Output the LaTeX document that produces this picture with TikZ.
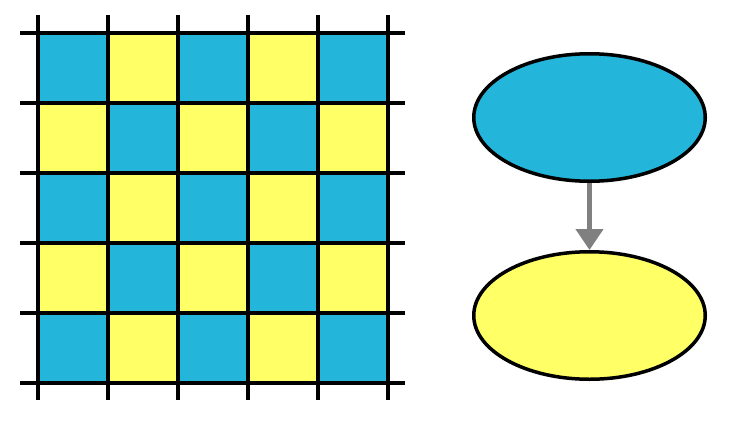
\documentclass[tikz,border=0pt]{standalone}
\usetikzlibrary{shapes.geometric,arrows.meta}
\definecolor{cellblue}{RGB}{36,182,218}
\definecolor{cellyellow}{RGB}{255,255,102}
\definecolor{arrowgray}{RGB}{128,128,128}
\tikzset{
  gridline/.style={black,line width=4pt},
  blob/.style={ellipse,draw=black,line width=3.5pt,minimum width=231.5pt,minimum height=127.5pt,inner sep=0pt},
  link/.style={arrowgray,line width=4.5pt,-{Triangle[width=27pt,length=21pt]}}
}
\begin{document}
\begin{tikzpicture}[x=1pt,y=-1pt]
\useasboundingbox (0,0) rectangle (733,428);
\foreach \i in {0,...,4}{
  \foreach \j in {0,...,4}{
    \pgfmathtruncatemacro{\cellparity}{mod(\i+\j,2)}
    \ifnum\cellparity=0
      \fill[cellblue] (38+70*\i,33+70*\j) rectangle ++(70,70);
    \else
      \fill[cellyellow] (38+70*\i,33+70*\j) rectangle ++(70,70);
    \fi
  }
}
\foreach \k in {0,...,5}{
  \draw[gridline] (38+70*\k,15) -- (38+70*\k,400);
  \draw[gridline] (20,33+70*\k) -- (405,33+70*\k);
}
\node[blob,fill=cellblue] (top) at (589.5,117.5) {};
\node[blob,fill=cellyellow] (bot) at (589.5,315.5) {};
\draw[link] (top.south) -- (bot.north);
\end{tikzpicture}
\end{document}
